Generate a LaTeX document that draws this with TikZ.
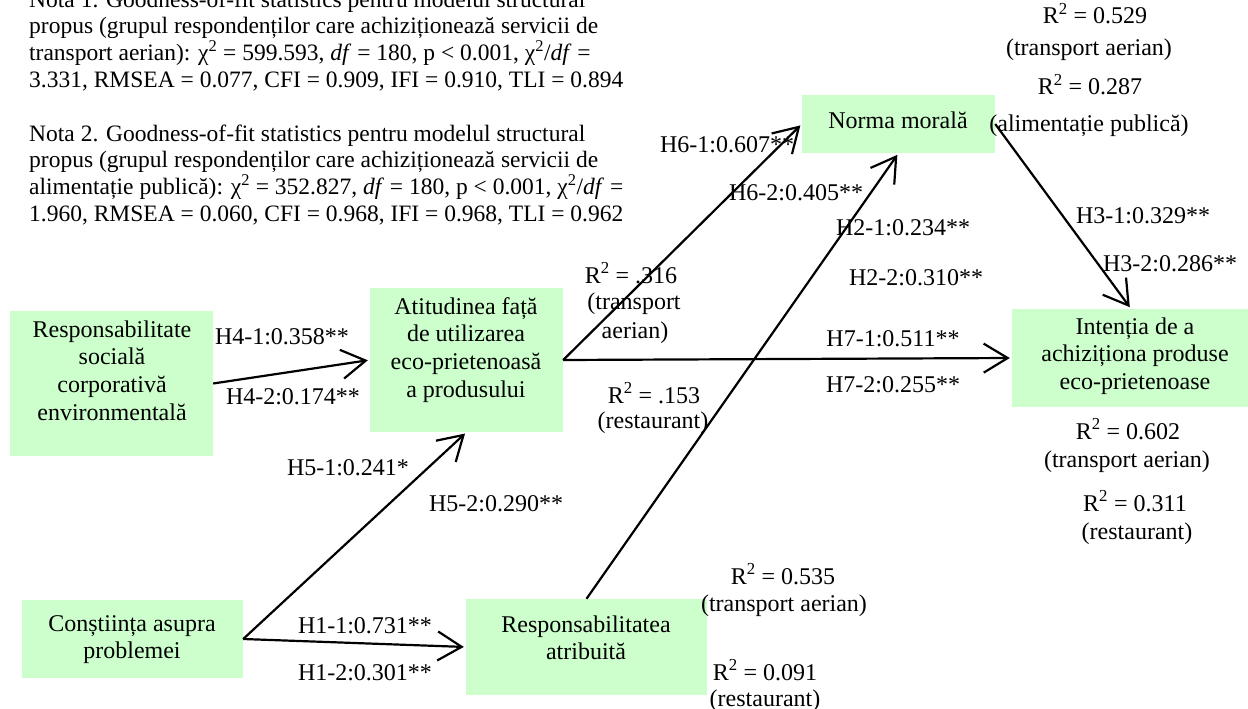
\documentclass[tikz,border=0pt]{standalone}
\usepackage{fontspec}
\setmainfont{Liberation Serif}
\usetikzlibrary{arrows.meta}
\definecolor{boxgreen}{RGB}{204,255,204}
\begin{document}
\begin{tikzpicture}[x=1pt,y=-1pt,
  box/.style={draw=none,fill=boxgreen,inner sep=0pt},
  btxt/.style={inner sep=0pt,align=center,anchor=north,
    font=\fontsize{24pt}{27.6pt}\selectfont},
  lab/.style={inner sep=0pt,anchor=base,font=\fontsize{24pt}{27.6pt}\selectfont},
  note/.style={inner sep=0pt,align=left,anchor=north west,
    font=\fontsize{23.5pt}{26.8pt}\selectfont},
  conn/.style={line width=2.2pt,-{Straight Barb[length=24pt,width=29pt]},shorten >=2pt}]
\useasboundingbox (0,0) rectangle (1248,709);

% fit notes
\node[note] (nota1) at (29,-11.8) {\strut Nota 1. Goodness-of-fit statistics pentru modelul structural\\
propus (grupul respondenților care achiziționează servicii de\\
transport aerian): χ\textsuperscript{2} = 599.593, \textit{df} = 180, p < 0.001, χ\textsuperscript{2}/\textit{df} =\\
3.331, RMSEA = 0.077, CFI = 0.909, IFI = 0.910, TLI = 0.894};
\node[note] (nota2) at (29,122.2) {\strut Nota 2. Goodness-of-fit statistics pentru modelul structural\\
propus (grupul respondenților care achiziționează servicii de\\
alimentație publică): χ\textsuperscript{2} = 352.827, \textit{df} = 180, p < 0.001, χ\textsuperscript{2}/\textit{df} =\\
1.960, RMSEA = 0.060, CFI = 0.968, IFI = 0.968, TLI = 0.962};

% construct boxes
\node[box,minimum width=203pt,minimum height=145pt] (rs) at (111.5,383.5) {};
\node[box,minimum width=193pt,minimum height=144pt] (att) at (466.5,360) {};
\node[box,minimum width=193pt,minimum height=58pt] (nm) at (898.5,124) {};
\node[box,minimum width=238pt,minimum height=98pt] (int) at (1131,358) {};
\node[box,minimum width=241pt,minimum height=96pt] (ra) at (586.5,647) {};
\node[box,minimum width=221pt,minimum height=78pt] (ca) at (132.5,639) {};

% box captions
\node[btxt] (rstxt) at (112,317.7) {\strut Responsabilitate\\socială\\corporativă\\environmentală};
\node[btxt] (atttxt) at (466,294.7) {\strut Atitudinea față\\de utilizarea\\eco-prietenoasă\\a produsului};
\node[btxt] (nmtxt) at (898,108.7) {\strut Norma morală};
\node[btxt] (inttxt) at (1135,314.7) {\strut Intenția de a\\achiziționa produse\\eco-prietenoase};
\node[btxt] (ratxt) at (586,612.7) {\strut Responsabilitatea\\atribuită};
\node[btxt] (catxt) at (132,611.7) {\strut Conștiința asupra\\problemei};

% path coefficients
\node[lab] (h41) at (282,344) {H4-1:0.358**};
\node[lab] (h42) at (293,404) {H4-2:0.174**};
\node[lab] (h51) at (348,475) {H5-1:0.241*};
\node[lab] (h52) at (496,511) {H5-2:0.290**};
\node[lab] (h11) at (365,633) {H1-1:0.731**};
\node[lab] (h12) at (365,680) {H1-2:0.301**};
\node[lab] (h61) at (727,152) {H6-1:0.607**};
\node[lab] (h62) at (796,200) {H6-2:0.405**};
\node[lab] (h21) at (903,235) {H2-1:0.234**};
\node[lab] (h22) at (916,285) {H2-2:0.310**};
\node[lab] (h31) at (1143,223) {H3-1:0.329**};
\node[lab] (h32) at (1170,271) {H3-2:0.286**};
\node[lab] (h71) at (893,346) {H7-1:0.511**};
\node[lab] (h72) at (893,392) {H7-2:0.255**};

% explained variance
\node[lab] (r2atta) at (631,283) {R\textsuperscript{2} = .316};
\node[lab] (r2attb) at (634,309) {(transport};
\node[lab] (r2attc) at (635,338) {aerian)};
\node[lab] (r2attd) at (654,403) {R\textsuperscript{2} = .153};
\node[lab] (r2atte) at (653,428) {(restaurant)};
\node[lab] (r2nma) at (1095,24) {R\textsuperscript{2} = 0.529};
\node[lab] (r2nmb) at (1089,56) {(transport aerian)};
\node[lab] (r2nmc) at (1090,95) {R\textsuperscript{2} = 0.287};
\node[lab] (r2nmd) at (1089,131) {(alimentație publică)};
\node[lab] (r2inta) at (1128,439) {R\textsuperscript{2} = 0.602};
\node[lab] (r2intb) at (1127,467) {(transport aerian)};
\node[lab] (r2intc) at (1135,511) {R\textsuperscript{2} = 0.311};
\node[lab] (r2intd) at (1137,539) {(restaurant)};
\node[lab] (r2raa) at (783,584) {R\textsuperscript{2} = 0.535};
\node[lab] (r2rab) at (784,611) {(transport aerian)};
\node[lab] (r2rac) at (765,680) {R\textsuperscript{2} = 0.091};
\node[lab] (r2rad) at (765,706) {(restaurant)};

% structural paths
\draw[conn] (rs.east) -- (att.west);
\draw[conn] (ca.east) -- (att.south);
\draw[conn] (ca.east) -- (ra.west);
\draw[conn] (ra.north) -- (nm.south);
\draw[conn] (att.east) -- (nm.west);
\draw[conn] (att.east) -- (int.west);
\draw[conn] (nm.east) -- (int.north);
\end{tikzpicture}
\end{document}
